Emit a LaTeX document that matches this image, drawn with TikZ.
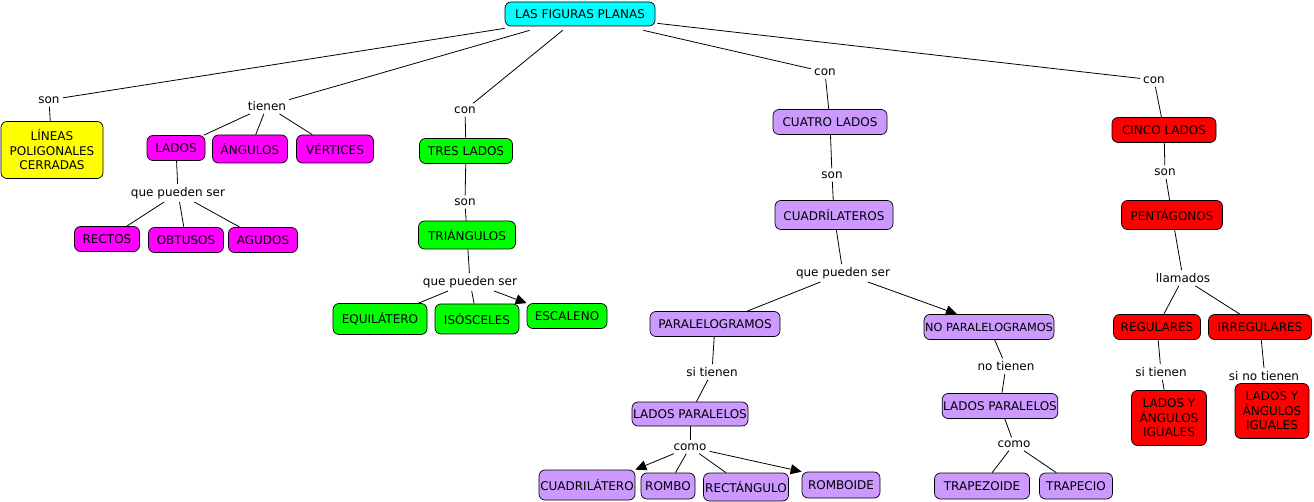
\documentclass[tikz,border=0pt]{standalone}
\usepackage{fontspec}
\setmainfont{DejaVu Sans}
\usetikzlibrary{arrows.meta}
\definecolor{cyanb}{RGB}{0,255,255}
\definecolor{yelb}{RGB}{255,255,0}
\definecolor{magb}{RGB}{255,0,255}
\definecolor{grnb}{RGB}{0,255,0}
\definecolor{lavb}{RGB}{204,153,255}
\definecolor{redb}{RGB}{255,0,0}
\tikzset{
  box/.style={draw=black, line width=0.7pt, rounded corners=6pt, inner xsep=1pt, inner ysep=2pt, align=center,
    font=\fontsize{12}{14.5}\selectfont, text=black},
  sz/.style 2 args={minimum width=#1pt, minimum height=#2pt},
  lbl/.style={inner sep=3pt, font=\fontsize{12}{14}\selectfont, fill=white},
  ln/.style={line width=0.8pt, black},
  arr/.style={ln, -{Triangle[length=11pt,width=10pt]}},
}
\begin{document}
\begin{tikzpicture}[x=1pt,y=-1pt]
\useasboundingbox (0,0) rectangle (1314,502);
% main
\node[box, fill=cyanb, sz={150}{24}] (root) at (580,14) {LAS FIGURAS PLANAS};
% left branch
\node[lbl] (son1) at (49,100) {son};
\node[box, fill=yelb, sz={102}{57}] (lineas) at (52,150) {LÍNEAS\\POLIGONALES\\CERRADAS};
\node[lbl] (tienen) at (267,106) {tienen};
\node[box, fill=magb, sz={58}{25}] (lados) at (176,148) {LADOS};
\node[box, fill=magb, sz={75}{28}] (angulos) at (250,149) {ÁNGULOS};
\node[box, fill=magb, sz={77}{28}] (vertices) at (335,149) {VÉRTICES};
\node[lbl] (qps1) at (178,193) {que pueden ser};
\node[box, fill=magb, sz={65}{25}] (rectos) at (107,239) {RECTOS};
\node[box, fill=magb, sz={75}{25}] (obtusos) at (186,240) {OBTUSOS};
\node[box, fill=magb, sz={69}{25}] (agudos) at (263,240) {AGUDOS};
% triangles
\node[lbl] (con1) at (465,110) {con};
\node[box, fill=grnb, sz={93}{25}] (tres) at (466,151) {TRES LADOS};
\node[lbl] (son2) at (465,202) {son};
\node[box, fill=grnb, sz={97}{28}] (triang) at (467,235) {TRIÁNGULOS};
\node[lbl] (qps2) at (470,282) {que pueden ser};
\node[box, fill=grnb, sz={94}{31}] (equi) at (380,319) {EQUILÁTERO};
\node[box, fill=grnb, sz={84}{30}] (isos) at (477,319) {ISÓSCELES};
\node[box, fill=grnb, sz={80}{25}] (esca) at (567,316) {ESCALENO};
% quadrilaterals
\node[lbl] (con2) at (825,72) {con};
\node[box, fill=lavb, sz={114}{25}] (cuatro) at (830,122) {CUATRO LADOS};
\node[lbl] (son3) at (832,175) {son};
\node[box, fill=lavb, sz={118}{29}] (cuadri) at (834,215) {CUADRÍLATEROS};
\node[lbl] (qps3) at (843,273) {que pueden ser};
\node[box, fill=lavb, sz={130}{25}] (para) at (715,324) {PARALELOGRAMOS};
\node[box, fill=lavb, sz={130}{25}, font=\fontsize{11.3}{14}\selectfont] (nopara) at (989,327) {NO PARALELOGRAMOS};
\node[lbl] (sitienen1) at (712,372) {si tienen};
\node[box, fill=lavb, sz={116}{24}] (ladpar1) at (690,414) {LADOS PARALELOS};
\node[lbl] (como1) at (690,447) {como};
\node[box, fill=lavb, sz={96}{30}] (cuadrilatero) at (587,485) {CUADRILÁTERO};
\node[box, fill=lavb, sz={54}{26}] (rombo) at (668,486) {ROMBO};
\node[box, fill=lavb, sz={85}{28}] (rect) at (746,487) {RECTÁNGULO};
\node[box, fill=lavb, sz={78}{26}] (romboide) at (841,485) {ROMBOIDE};
\node[lbl] (notienen) at (1006,366) {no tienen};
\node[box, fill=lavb, sz={113}{25}] (ladpar2) at (1000,406) {LADOS PARALELOS};
\node[lbl] (como2) at (1014,444) {como};
\node[box, fill=lavb, sz={95}{26}] (trapezoide) at (982,486) {TRAPEZOIDE};
\node[box, fill=lavb, sz={73}{26}] (trapecio) at (1076,486) {TRAPECIO};
% pentagons
\node[lbl] (con3) at (1154,80) {con};
\node[box, fill=redb, sz={104}{25}] (cinco) at (1164,130) {CINCO LADOS};
\node[lbl] (son4) at (1165,172) {son};
\node[box, fill=redb, sz={101}{29}] (penta) at (1172,215) {PENTÁGONOS};
\node[lbl] (llamados) at (1183,278) {llamados};
\node[box, fill=redb, sz={87}{25}] (regul) at (1157,327) {REGULARES};
\node[box, fill=redb, sz={103}{25}] (irreg) at (1260,327) {IRREGULARES};
\node[lbl] (sitienen2) at (1161,372) {si tienen};
\node[box, fill=redb, sz={75}{55}] (iguales1) at (1169,418) {LADOS Y\\ÁNGULOS\\IGUALES};
\node[lbl, fill=none] (sinotienen) at (1264,376) {si no tienen};
\node[box, fill=redb, sz={74}{55}] (iguales2) at (1272,411) {LADOS Y\\ÁNGULOS\\IGUALES};
% connector anchors on the root box
\coordinate (r1) at ([shift={(0,2)}]root.south west);
\coordinate (r2) at ([shift={(25,4)}]root.south west);
\coordinate (r3) at ([shift={(58,4)}]root.south west);
\coordinate (r4) at ([shift={(-12,4)}]root.south east);
\coordinate (r5) at ([shift={(2,-3)}]root.south east);
\coordinate (npt) at ([xshift=-32pt]nopara.north);
% connectors
\draw[ln] (r1) -- (son1);
\draw[ln] (r2) -- (tienen);
\draw[ln] (r3) -- (con1);
\draw[ln] (r4) -- (con2);
\draw[ln] (r5) -- (con3);
\draw[ln] (son1) -- (lineas);
\draw[ln] (tienen) -- (lados);
\draw[ln] (tienen) -- (angulos);
\draw[ln] (tienen) -- (vertices);
\draw[ln] (lados) -- (qps1);
\draw[ln] (qps1) -- (rectos);
\draw[ln] (qps1) -- (obtusos);
\draw[ln] (qps1) -- (agudos);
\draw[ln] (con1) -- (tres);
\draw[ln] (tres) -- (son2);
\draw[ln] (son2) -- (triang);
\draw[ln] (triang) -- (qps2);
\draw[ln] (qps2) -- (equi);
\draw[ln] (qps2) -- (isos);
\draw[arr] (qps2) -- (esca.north west);
\draw[ln] (con2) -- (cuatro);
\draw[ln] (cuatro) -- (son3);
\draw[ln] (son3) -- (cuadri);
\draw[ln] (cuadri) -- (qps3);
\draw[ln] (qps3) -- (para);
\draw[arr] (qps3) -- (npt);
\draw[ln] (para) -- (sitienen1);
\draw[ln] (sitienen1) -- (ladpar1);
\draw[ln] (ladpar1) -- (como1);
\draw[arr] (como1) -- (cuadrilatero.north east);
\draw[ln] (como1) -- (rombo);
\draw[ln] (como1) -- (rect);
\draw[arr] (como1) -- (romboide.north west);
\draw[ln] (nopara) -- (notienen);
\draw[ln] (notienen) -- (ladpar2);
\draw[ln] (ladpar2) -- (como2);
\draw[ln] (como2) -- (trapezoide);
\draw[ln] (como2) -- (trapecio);
\draw[ln] (con3) -- (cinco);
\draw[ln] (cinco) -- (son4);
\draw[ln] (son4) -- (penta);
\draw[ln] (penta) -- (llamados);
\draw[ln] (llamados) -- (regul);
\draw[ln] (llamados) -- (irreg);
\draw[ln] (regul) -- (sitienen2);
\draw[ln] (sitienen2) -- (iguales1);
\draw[ln] (irreg) -- (sinotienen.north);
\end{tikzpicture}
\end{document}
